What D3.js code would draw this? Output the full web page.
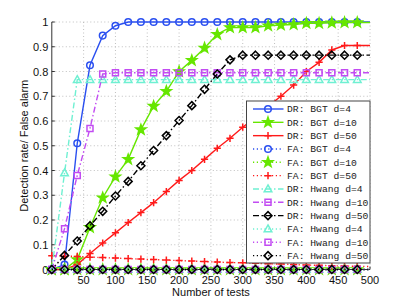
<!DOCTYPE html>
<html><head><meta charset="utf-8">
<script src="https://cdn.jsdelivr.net/npm/d3@7"></script>
<style>body{margin:0;background:#fff}svg{display:block}</style>
</head><body>
<svg id="c" width="409" height="304"></svg>
<script>
const testCounts = [0,20,40,60,80,100,120,140,160,180,200,220,240,260,280,300,320,340,360,380,400,420,440,460,480,500];
const xTicks = [50,100,150,200,250,300,350,400,450,500];
const yTicks = [0,0.1,0.2,0.3,0.4,0.5,0.6,0.7,0.8,0.9,1];
const yTickLabels = ["0","0.1","0.2","0.3","0.4","0.5","0.6","0.7","0.8","0.9","1"];

const drBgt4 = [0,0.02,0.51,0.825,0.945,0.985,1,1,1,1,1,1,1,1,1,1,1,1,1,1,1,1,1,1,1,1];
const drBgt10 = [0,0,0.04,0.17,0.29,0.375,0.445,0.565,0.66,0.72,0.80,0.845,0.895,0.95,0.978,0.978,0.978,0.985,0.988,0.99,0.995,0.995,0.997,0.998,0.998,0.998];
const drBgt50 = [0,0,0.02,0.065,0.107,0.148,0.19,0.23,0.27,0.315,0.36,0.40,0.445,0.49,0.53,0.575,0.615,0.66,0.70,0.745,0.80,0.837,0.887,0.905,0.905,0.905];
const faBgt4 = [0,0,0,0,0,0,0,0,0,0,0,0,0,0,0,0,0,0,0,0,0,0,0,0,0,0];
const faBgt10 = [0,0,0,0,0,0,0,0,0,0,0,0,0,0,0,0,0,0,0,0,0,0,0,0,0,0];
const faBgt50 = [0.056,0.054,0.053,0.05,0.048,0.046,0.044,0.042,0.04,0.038,0.036,0.034,0.032,0.03,0.028,0.027,0.025,0.023,0.022,0.02,0.018,0.017,0.015,0.014,0.013,0.012];
const drHwang4 = [0,0.39,0.767,0.767,0.767,0.767,0.767,0.767,0.767,0.767,0.767,0.767,0.767,0.767,0.767,0.767,0.767,0.767,0.767,0.767,0.767,0.767,0.767,0.767,0.767,0.767];
const drHwang10 = [0,0.165,0.38,0.57,0.79,0.795,0.795,0.795,0.795,0.795,0.795,0.795,0.795,0.795,0.795,0.795,0.795,0.795,0.795,0.795,0.795,0.795,0.795,0.795,0.795,0.795];
const drHwang50 = [0,0.057,0.115,0.177,0.235,0.297,0.356,0.419,0.481,0.541,0.602,0.662,0.728,0.79,0.847,0.866,0.866,0.866,0.866,0.866,0.866,0.866,0.866,0.866,0.866,0.866];
const faHwang4 = [0,0,0,0,0,0,0,0,0,0,0,0,0,0,0,0,0,0,0,0,0,0,0,0,0,0];
const faHwang10 = [0,0,0,0,0,0,0,0,0,0,0,0,0,0,0,0,0,0,0,0,0,0,0,0,0,0];
const faHwang50 = [0,0,0,0,0,0,0,0,0,0,0,0,0,0,0,0,0,0,0,0,0,0,0,0,0,0];

const seriesNames = ["DR: BGT d=4","DR: BGT d=10","DR: BGT d=50","FA: BGT d=4","FA: BGT d=10","FA: BGT d=50",
  "DR: Hwang d=4","DR: Hwang d=10","DR: Hwang d=50","FA: Hwang d=4","FA: Hwang d=10","FA: Hwang d=50"];
const seriesValues = [drBgt4,drBgt10,drBgt50,faBgt4,faBgt10,faBgt50,drHwang4,drHwang10,drHwang50,faHwang4,faHwang10,faHwang50];

const BLUE="#2a4ff0", GREEN="#66e600", RED="#ff1a1a", CYAN="#6ff0d2", PURPLE="#c24cf2", BLACK="#000";
const styles = [
  {c:BLUE,m:"circle",d:null},{c:GREEN,m:"star",d:null},{c:RED,m:"plus",d:null},
  {c:BLUE,m:"circle",d:"1.2,2.6"},{c:GREEN,m:"star",d:"1.2,2.6"},{c:RED,m:"plus",d:"1.2,2.6"},
  {c:CYAN,m:"triangle",d:"6,2.5,1.5,2.5"},{c:PURPLE,m:"square",d:"6,2.5,1.5,2.5"},{c:BLACK,m:"diamond",d:"6,2.5,1.5,2.5"},
  {c:CYAN,m:"triangle",d:"1.2,2.6"},{c:PURPLE,m:"square",d:"1.2,2.6"},{c:BLACK,m:"diamond",d:"1.2,2.6"}
];

const svg = d3.select("#c");
const L=51.8, R=370, T=22, B=269.5;
const x = d3.scaleLinear().domain([0,500]).range([L,R]);
const y = d3.scaleLinear().domain([0,1]).range([B,T]);

// grid
const g = svg.append("g");
g.selectAll(".vg").data(xTicks).enter().append("line")
  .attr("x1",d=>x(d)).attr("x2",d=>x(d)).attr("y1",T).attr("y2",B)
  .attr("stroke","#b0b0b0").attr("stroke-width",0.8).attr("stroke-dasharray","1,2.5");
g.selectAll(".hg").data(yTicks.filter(d=>d>0)).enter().append("line")
  .attr("x1",L).attr("x2",R).attr("y1",d=>y(d)).attr("y2",d=>y(d))
  .attr("stroke","#b0b0b0").attr("stroke-width",0.8).attr("stroke-dasharray","1,2.5");

// axes
const axCol="#333";
svg.append("line").attr("x1",L).attr("x2",L).attr("y1",T).attr("y2",B).attr("stroke",axCol).attr("stroke-width",1);
svg.append("line").attr("x1",L).attr("x2",R).attr("y1",B).attr("y2",B).attr("stroke",axCol).attr("stroke-width",1);
svg.selectAll(".yt").data(yTicks).enter().append("line")
  .attr("x1",L).attr("x2",L+3).attr("y1",d=>y(d)).attr("y2",d=>y(d)).attr("stroke",axCol);
svg.selectAll(".xt").data(xTicks).enter().append("line")
  .attr("x1",d=>x(d)).attr("x2",d=>x(d)).attr("y1",B).attr("y2",B-3).attr("stroke",axCol);
svg.selectAll(".ytl").data(yTicks).enter().append("text")
  .attr("x",L-3.5).attr("y",d=>y(d)+4).attr("text-anchor","end")
  .attr("font-family","Liberation Sans, Arial, sans-serif").attr("font-size",11).attr("fill","#111")
  .text((d,i)=>yTickLabels[i]);
svg.selectAll(".xtl").data(xTicks).enter().append("text")
  .attr("x",d=>x(d)).attr("y",284).attr("text-anchor","middle")
  .attr("font-family","Liberation Sans, Arial, sans-serif").attr("font-size",11).attr("fill","#111")
  .text(d=>d);
svg.append("text").attr("x",(L+R)/2).attr("y",296).attr("text-anchor","middle")
  .attr("font-family","Liberation Sans, Arial, sans-serif").attr("font-size",11).attr("fill","#111")
  .text("Number of tests");
svg.append("text").attr("transform",`translate(27.5,${(T+B)/2}) rotate(-90)`).attr("text-anchor","middle")
  .attr("font-family","Liberation Sans, Arial, sans-serif").attr("font-size",11).attr("fill","#111")
  .text("Detection rate/ False alarm");

function markerPath(m){
  const p=d3.path();
  if(m==="circle"){p.arc(0,0,3.3,0,2*Math.PI);}
  else if(m==="plus"){p.moveTo(-3.6,0);p.lineTo(3.6,0);p.moveTo(0,-3.6);p.lineTo(0,3.6);}
  else if(m==="square"){p.rect(-3,-3,6,6);}
  else if(m==="diamond"){p.moveTo(0,-4);p.lineTo(4,0);p.lineTo(0,4);p.lineTo(-4,0);p.closePath();}
  else if(m==="triangle"){p.moveTo(0,-4);p.lineTo(3.8,2.8);p.lineTo(-3.8,2.8);p.closePath();}
  else if(m==="star"){
    for(let k=0;k<10;k++){const r=k%2?2.1:5.2;const a=-Math.PI/2+k*Math.PI/5;
      const px=r*Math.cos(a),py=r*Math.sin(a); if(k===0)p.moveTo(px,py); else p.lineTo(px,py);} p.closePath();
  }
  return p.toString();
}

const line = d3.line().x((d,i)=>x(testCounts[i])).y(d=>y(d));
seriesValues.forEach((vals,si)=>{
  const st=styles[si];
  const sg=svg.append("g");
  sg.append("path").attr("d",line(vals)).attr("fill","none").attr("stroke",st.c)
    .attr("stroke-width",1.4).attr("stroke-dasharray",st.d);
  sg.selectAll("path.mk").data(vals.slice(0,vals.length-1)).enter().append("path").attr("class","mk")
    .attr("transform",(d,i)=>`translate(${x(testCounts[i])},${y(d)})`)
    .attr("d",markerPath(st.m))
    .attr("fill",st.m==="star"?st.c:"none").attr("stroke",st.c).attr("stroke-width",1.5);
});

// legend
const lg=svg.append("g");
lg.append("rect").attr("x",246.5).attr("y",101).attr("width",123.5).attr("height",162)
  .attr("fill","#fff").attr("stroke","#444").attr("stroke-width",1);
seriesNames.forEach((nm,i)=>{
  const st=styles[i]; const cy=109+i*13.33;
  lg.append("line").attr("x1",253).attr("x2",283.5).attr("y1",cy).attr("y2",cy)
    .attr("stroke",st.c).attr("stroke-width",1.4).attr("stroke-dasharray",st.d);
  lg.append("path").attr("transform",`translate(268,${cy})`).attr("d",markerPath(st.m))
    .attr("fill",st.m==="star"?st.c:"none").attr("stroke",st.c).attr("stroke-width",1.5);
  lg.append("text").attr("x",287).attr("y",cy+3.4)
    .attr("font-family","Liberation Mono, Courier New, monospace").attr("font-size",9.7).attr("fill","#222")
    .text(nm);
});
</script>
</body></html>
